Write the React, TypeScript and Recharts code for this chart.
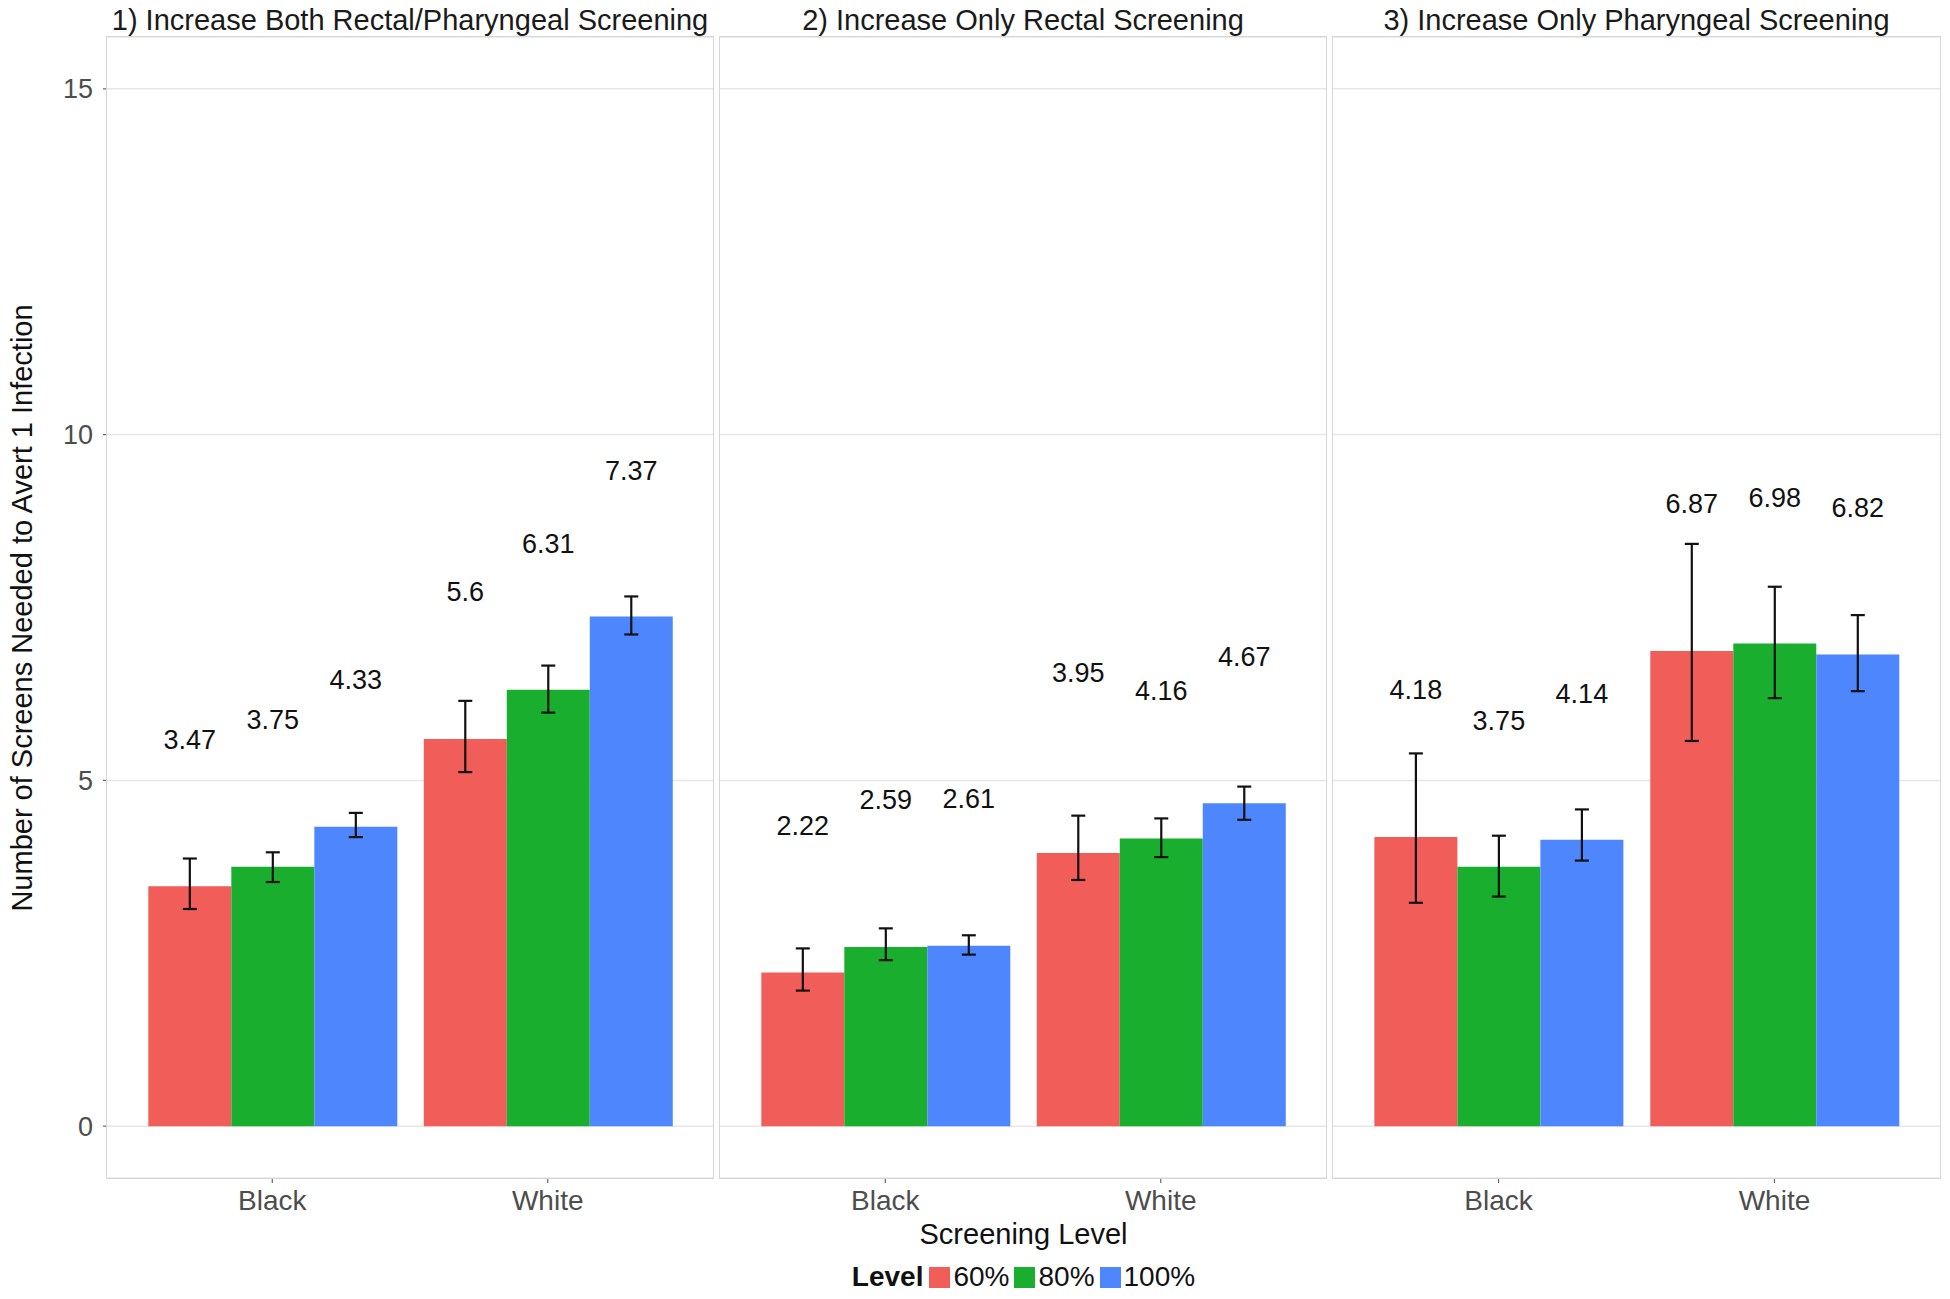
import React from 'react';
import { BarChart, Bar, XAxis, YAxis, CartesianGrid, ErrorBar } from 'recharts';

// Categories and series
const races = ['Black', 'White'];
const levelNames = ['60%', '80%', '100%'];
const levelColors = ['#F15D58', '#19AE2D', '#4E86FD'];
const facetTitles = [
  '1) Increase Both Rectal/Pharyngeal Screening',
  '2) Increase Only Rectal Screening',
  '3) Increase Only Pharyngeal Screening',
];
const yTicks = [0, 5, 10, 15];
const yDomain = [-0.75, 15.75];

// Rows: 60%, 80%, 100%; columns: Black, White
const bothMeans = [[3.47, 5.6], [3.75, 6.31], [4.33, 7.37]];
const bothLower = [[3.14, 5.12], [3.53, 5.98], [4.18, 7.11]];
const bothUpper = [[3.87, 6.15], [3.96, 6.66], [4.53, 7.66]];
const bothLabelY = [[5.58, 7.72], [5.87, 8.42], [6.45, 9.48]];

const rectalMeans = [[2.22, 3.95], [2.59, 4.16], [2.61, 4.67]];
const rectalLower = [[1.96, 3.56], [2.4, 3.89], [2.48, 4.43]];
const rectalUpper = [[2.57, 4.49], [2.86, 4.45], [2.76, 4.91]];
const rectalLabelY = [[4.34, 6.56], [4.71, 6.29], [4.73, 6.79]];

const pharMeans = [[4.18, 6.87], [3.75, 6.98], [4.14, 6.82]];
const pharLower = [[3.23, 5.57], [3.32, 6.19], [3.84, 6.29]];
const pharUpper = [[5.39, 8.42], [4.2, 7.8], [4.58, 7.39]];
const pharLabelY = [[6.3, 8.99], [5.86, 9.09], [6.25, 8.94]];

function buildData(means: number[][], lower: number[][], upper: number[][]) {
  return races.map((race, r) => {
    const row: any = { race };
    levelNames.forEach((_, l) => {
      row['v' + l] = means[l][r];
      row['e' + l] = [means[l][r] - lower[l][r], upper[l][r] - means[l][r]];
    });
    return row;
  });
}

const FONT = '"Liberation Sans", Arial, Helvetica, sans-serif';
const PLOT_TOP = 37;
const PLOT_H = 1141;
const CHART_H = 1215;

function makeLabel(labelYs: number[]) {
  return (props: any) => {
    const vb = props.viewBox && props.viewBox.width != null ? props.viewBox : props;
    const x = Number(props.x ?? vb.x);
    const y = Number(props.y ?? vb.y);
    const w = Number(props.width ?? vb.width);
    const h = Number(props.height ?? vb.height);
    const value = Number(props.value);
    const index = props.index;
    if (!isFinite(x) || !isFinite(y) || !isFinite(h) || !value || index == null) return null;
    const top = Math.min(y, y + h);
    const bottom = Math.max(y, y + h);
    const perUnit = (bottom - top) / value;
    const ly = bottom - labelYs[index] * perUnit;
    return (
      <text
        x={x + w / 2}
        y={ly}
        textAnchor="middle"
        dominantBaseline="central"
        fontSize={27}
        fill="#111"
        fontFamily={FONT}
      >
        {String(props.value)}
      </text>
    );
  };
}

const EmptyTick = () => <g />;

function Panel({ data, labelY, width, yAxisWidth, showY }: any) {
  const plotW = width - yAxisWidth;
  const pad = (plotW * 0.1) / 2.2;
  return (
    <BarChart
      width={width}
      height={CHART_H}
      data={data}
      margin={{ top: PLOT_TOP, right: 0, bottom: 0, left: 0 }}
      barGap={0}
      barCategoryGap="5%"
    >
      <CartesianGrid vertical={false} stroke="#e6e6e6" strokeWidth={1.5} />
      <XAxis
        dataKey="race"
        padding={{ left: pad, right: pad }}
        height={CHART_H - PLOT_TOP - PLOT_H}
        axisLine={false}
        tickSize={5}
        tickMargin={7}
        tickLine={{ stroke: '#666', strokeWidth: 1.2 }}
        tick={{ fill: '#4d4d4d', fontSize: 28, fontFamily: FONT }}
        interval={0}
      />
      <YAxis
        type="number"
        domain={yDomain}
        ticks={yTicks}
        width={yAxisWidth}
        axisLine={false}
        tickLine={showY ? { stroke: '#666', strokeWidth: 1.2 } : false}
        tickSize={showY ? 4 : 0}
        tickMargin={showY ? 10 : 0}
        tick={showY ? { fill: '#4d4d4d', fontSize: 27, fontFamily: FONT } : EmptyTick}
        allowDataOverflow
      />
      {levelNames.map((name, l) => (
        <Bar
          key={name}
          dataKey={'v' + l}
          name={name}
          fill={levelColors[l]}
          isAnimationActive={false}
          label={makeLabel(labelY[l])}
        >
          <ErrorBar
            dataKey={'e' + l}
            width={7}
            stroke="#111"
            strokeWidth={2.2}
            direction="y"
            isAnimationActive={false}
          />
        </Bar>
      ))}
    </BarChart>
  );
}

const panels = [
  { data: buildData(bothMeans, bothLower, bothUpper), labelY: bothLabelY, left: 0, width: 713, yAxisWidth: 107, showY: true, plotLeft: 107 },
  { data: buildData(rectalMeans, rectalLower, rectalUpper), labelY: rectalLabelY, left: 720, width: 606, yAxisWidth: 0, showY: false, plotLeft: 720 },
  { data: buildData(pharMeans, pharLower, pharUpper), labelY: pharLabelY, left: 1333, width: 607, yAxisWidth: 0, showY: false, plotLeft: 1333 },
];

export default function App() {
  return (
    <div
      style={{
        position: 'absolute',
        left: 0,
        top: 0,
        width: 1950,
        height: 1299,
        background: '#fff',
        fontFamily: FONT,
        overflow: 'hidden',
      }}
    >
      {panels.map((p, i) => {
        const plotW = p.width - p.yAxisWidth;
        return (
          <React.Fragment key={i}>
            <div style={{ position: 'absolute', left: p.left, top: 0 }}>
              <Panel data={p.data} labelY={p.labelY} width={p.width} yAxisWidth={p.yAxisWidth} showY={p.showY} />
            </div>
            <div
              style={{
                position: 'absolute',
                left: p.plotLeft - 0.75,
                top: PLOT_TOP - 0.75,
                width: plotW + 1.5,
                height: PLOT_H + 1.5,
                border: '1.5px solid #d6d6d6',
                boxSizing: 'border-box',
                pointerEvents: 'none',
              }}
            />
            <div
              style={{
                position: 'absolute',
                left: p.plotLeft - 20,
                width: plotW + 40,
                top: 6,
                fontSize: 29,
                lineHeight: '29px',
                textAlign: 'center',
                color: '#1a1a1a',
                whiteSpace: 'nowrap',
              }}
            >
              {facetTitles[i]}
            </div>
          </React.Fragment>
        );
      })}
      <div
        style={{
          position: 'absolute',
          left: 22,
          top: PLOT_TOP + PLOT_H / 2,
          transform: 'translate(-50%, -50%) rotate(-90deg)',
          fontSize: 29,
          lineHeight: '29px',
          color: '#111',
          whiteSpace: 'nowrap',
        }}
      >
        Number of Screens Needed to Avert 1 Infection
      </div>
      <div
        style={{
          position: 'absolute',
          left: 107,
          width: 1833,
          top: 1220,
          fontSize: 29,
          lineHeight: '29px',
          textAlign: 'center',
          color: '#111',
        }}
      >
        Screening Level
      </div>
      <div
        style={{
          position: 'absolute',
          left: 107,
          width: 1833,
          top: 1263,
          height: 28,
          display: 'flex',
          justifyContent: 'center',
          alignItems: 'center',
          fontSize: 28,
          lineHeight: '28px',
          color: '#111',
        }}
      >
        <span style={{ fontWeight: 'bold', marginRight: 6 }}>Level</span>
        {levelNames.map((name, l) => (
          <span key={name} style={{ display: 'flex', alignItems: 'center', marginRight: l < levelNames.length - 1 ? 5 : 0 }}>
            <span style={{ display: 'inline-block', width: 21, height: 21, background: levelColors[l], marginRight: 3 }} />
            <span>{name}</span>
          </span>
        ))}
      </div>
    </div>
  );
}
